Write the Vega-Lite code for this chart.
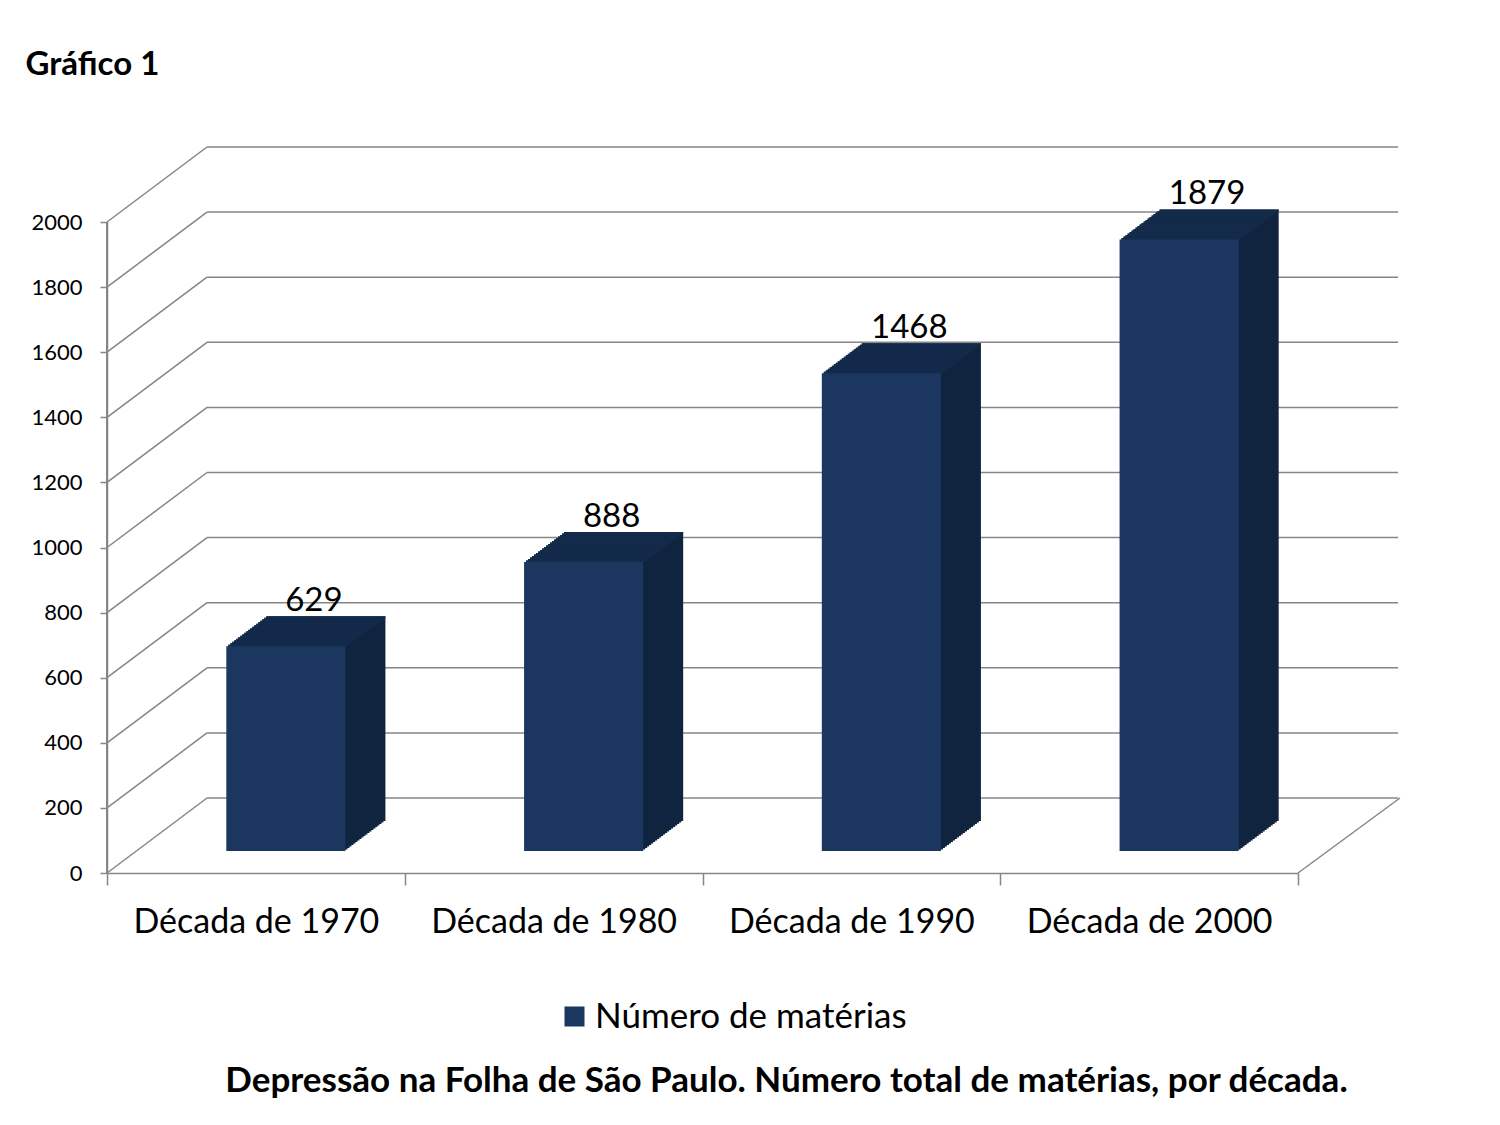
{
  "$schema": "https://vega.github.io/schema/vega-lite/v6.json",
  "autosize": "none",
  "width": 1191,
  "height": 651,
  "padding": {"left": 107, "top": 222, "right": 202, "bottom": 252},
  "background": "white",
  "datasets": {
    "materias": [
      {"decada": "Década de 1970", "materias": 629},
      {"decada": "Década de 1980", "materias": 888},
      {"decada": "Década de 1990", "materias": 1468},
      {"decada": "Década de 2000", "materias": 1879}
    ],
    "grade": [
      {"v": 0}, {"v": 200}, {"v": 400}, {"v": 600}, {"v": 800}, {"v": 1000},
      {"v": 1200}, {"v": 1400}, {"v": 1600}, {"v": 1800}, {"v": 2000}
    ]
  },
  "layer": [
    {
      "data": {"name": "grade"},
      "mark": {"type": "rule", "color": "#868686", "strokeWidth": 1.5, "xOffset": 100, "x2Offset": 100, "yOffset": -75, "y2Offset": -75},
      "encoding": {
        "x": {"value": 0},
        "x2": {"value": "width"},
        "y": {
          "field": "v",
          "type": "quantitative",
          "scale": {"domain": [0, 2000], "nice": false},
          "title": "Gráfico 1",
          "axis": {
            "values": [0, 200, 400, 600, 800, 1000, 1200, 1400, 1600, 1800, 2000],
            "format": "d",
            "domain": true,
            "ticks": true,
            "grid": false
          }
        }
      }
    },
    {
      "data": {"name": "grade"},
      "mark": {"type": "rule", "color": "#868686", "strokeWidth": 1.5, "x2Offset": 100, "y2Offset": -75},
      "encoding": {
        "x": {"value": 0},
        "x2": {"value": 0},
        "y": {"field": "v", "type": "quantitative"},
        "y2": {"field": "v"}
      }
    },
    {
      "data": {"name": "grade"},
      "transform": [{"filter": "datum.v == 0"}],
      "mark": {"type": "rule", "color": "#868686", "strokeWidth": 2},
      "encoding": {
        "x": {"value": 0},
        "y": {"field": "v", "type": "quantitative"},
        "y2": {"datum": 2000}
      }
    },
    {
      "data": {"name": "grade"},
      "transform": [{"filter": "datum.v == 0"}],
      "mark": {"type": "rule", "color": "#868686", "strokeWidth": 1.5, "x2Offset": 102, "y2Offset": -75},
      "encoding": {
        "x": {"value": "width"},
        "x2": {"value": "width"},
        "y": {"field": "v", "type": "quantitative"},
        "y2": {"field": "v"}
      }
    },
    {
      "data": {"name": "materias"},
      "layer": [
        {"mark": {"type": "bar", "width": {"band": 0.4}, "color": "#10243f", "xOffset": 32, "x2Offset": 32, "yOffset": -23.5, "y2Offset": -23.5}},
        {"mark": {"type": "bar", "width": {"band": 0.4}, "color": "#10243f", "xOffset": 34, "x2Offset": 34, "yOffset": -25, "y2Offset": -25}},
        {"mark": {"type": "bar", "width": {"band": 0.4}, "color": "#10243f", "xOffset": 36, "x2Offset": 36, "yOffset": -26.5, "y2Offset": -26.5}},
        {"mark": {"type": "bar", "width": {"band": 0.4}, "color": "#10243f", "xOffset": 38, "x2Offset": 38, "yOffset": -28, "y2Offset": -28}},
        {"mark": {"type": "bar", "width": {"band": 0.4}, "color": "#10243f", "xOffset": 40, "x2Offset": 40, "yOffset": -29.5, "y2Offset": -29.5}},
        {"mark": {"type": "bar", "width": {"band": 0.4}, "color": "#10243f", "xOffset": 42, "x2Offset": 42, "yOffset": -31, "y2Offset": -31}},
        {"mark": {"type": "bar", "width": {"band": 0.4}, "color": "#10243f", "xOffset": 44, "x2Offset": 44, "yOffset": -32.5, "y2Offset": -32.5}},
        {"mark": {"type": "bar", "width": {"band": 0.4}, "color": "#10243f", "xOffset": 46, "x2Offset": 46, "yOffset": -34, "y2Offset": -34}},
        {"mark": {"type": "bar", "width": {"band": 0.4}, "color": "#10243f", "xOffset": 48, "x2Offset": 48, "yOffset": -35.5, "y2Offset": -35.5}},
        {"mark": {"type": "bar", "width": {"band": 0.4}, "color": "#10243f", "xOffset": 50, "x2Offset": 50, "yOffset": -37, "y2Offset": -37}},
        {"mark": {"type": "bar", "width": {"band": 0.4}, "color": "#10243f", "xOffset": 52, "x2Offset": 52, "yOffset": -38.5, "y2Offset": -38.5}},
        {"mark": {"type": "bar", "width": {"band": 0.4}, "color": "#10243f", "xOffset": 54, "x2Offset": 54, "yOffset": -40, "y2Offset": -40}},
        {"mark": {"type": "bar", "width": {"band": 0.4}, "color": "#10243f", "xOffset": 56, "x2Offset": 56, "yOffset": -41.5, "y2Offset": -41.5}},
        {"mark": {"type": "bar", "width": {"band": 0.4}, "color": "#10243f", "xOffset": 58, "x2Offset": 58, "yOffset": -43, "y2Offset": -43}},
        {"mark": {"type": "bar", "width": {"band": 0.4}, "color": "#10243f", "xOffset": 60, "x2Offset": 60, "yOffset": -44.5, "y2Offset": -44.5}},
        {"mark": {"type": "bar", "width": {"band": 0.4}, "color": "#10243f", "xOffset": 62, "x2Offset": 62, "yOffset": -46, "y2Offset": -46}},
        {"mark": {"type": "bar", "width": {"band": 0.4}, "color": "#10243f", "xOffset": 64, "x2Offset": 64, "yOffset": -47.5, "y2Offset": -47.5}},
        {"mark": {"type": "bar", "width": {"band": 0.4}, "color": "#10243f", "xOffset": 66, "x2Offset": 66, "yOffset": -49, "y2Offset": -49}},
        {"mark": {"type": "bar", "width": {"band": 0.4}, "color": "#10243f", "xOffset": 68, "x2Offset": 68, "yOffset": -50.5, "y2Offset": -50.5}},
        {"mark": {"type": "bar", "width": {"band": 0.4}, "color": "#10243f", "xOffset": 70, "x2Offset": 70, "yOffset": -52, "y2Offset": -52}}
      ],
      "encoding": {
        "x": {
          "field": "decada",
          "type": "nominal",
          "scale": {"paddingInner": 0, "paddingOuter": 0},
          "title": "Depressão na Folha de São Paulo. Número total de matérias, por década.",
          "axis": {"tickBand": "extent", "labelAngle": 0, "labelLimit": 500, "domain": true, "ticks": true, "grid": false}
        },
        "y": {"field": "materias", "type": "quantitative"}
      }
    },
    {
      "data": {"name": "materias"},
      "layer": [
        {"mark": {"type": "bar", "width": {"band": 0.4}, "color": "#132a4b", "xOffset": 32, "x2Offset": 32, "yOffset": -23.5, "y2Offset": -21.5}},
        {"mark": {"type": "bar", "width": {"band": 0.4}, "color": "#132a4b", "xOffset": 34, "x2Offset": 34, "yOffset": -25, "y2Offset": -23}},
        {"mark": {"type": "bar", "width": {"band": 0.4}, "color": "#132a4b", "xOffset": 36, "x2Offset": 36, "yOffset": -26.5, "y2Offset": -24.5}},
        {"mark": {"type": "bar", "width": {"band": 0.4}, "color": "#132a4b", "xOffset": 38, "x2Offset": 38, "yOffset": -28, "y2Offset": -26}},
        {"mark": {"type": "bar", "width": {"band": 0.4}, "color": "#132a4b", "xOffset": 40, "x2Offset": 40, "yOffset": -29.5, "y2Offset": -27.5}},
        {"mark": {"type": "bar", "width": {"band": 0.4}, "color": "#132a4b", "xOffset": 42, "x2Offset": 42, "yOffset": -31, "y2Offset": -29}},
        {"mark": {"type": "bar", "width": {"band": 0.4}, "color": "#132a4b", "xOffset": 44, "x2Offset": 44, "yOffset": -32.5, "y2Offset": -30.5}},
        {"mark": {"type": "bar", "width": {"band": 0.4}, "color": "#132a4b", "xOffset": 46, "x2Offset": 46, "yOffset": -34, "y2Offset": -32}},
        {"mark": {"type": "bar", "width": {"band": 0.4}, "color": "#132a4b", "xOffset": 48, "x2Offset": 48, "yOffset": -35.5, "y2Offset": -33.5}},
        {"mark": {"type": "bar", "width": {"band": 0.4}, "color": "#132a4b", "xOffset": 50, "x2Offset": 50, "yOffset": -37, "y2Offset": -35}},
        {"mark": {"type": "bar", "width": {"band": 0.4}, "color": "#132a4b", "xOffset": 52, "x2Offset": 52, "yOffset": -38.5, "y2Offset": -36.5}},
        {"mark": {"type": "bar", "width": {"band": 0.4}, "color": "#132a4b", "xOffset": 54, "x2Offset": 54, "yOffset": -40, "y2Offset": -38}},
        {"mark": {"type": "bar", "width": {"band": 0.4}, "color": "#132a4b", "xOffset": 56, "x2Offset": 56, "yOffset": -41.5, "y2Offset": -39.5}},
        {"mark": {"type": "bar", "width": {"band": 0.4}, "color": "#132a4b", "xOffset": 58, "x2Offset": 58, "yOffset": -43, "y2Offset": -41}},
        {"mark": {"type": "bar", "width": {"band": 0.4}, "color": "#132a4b", "xOffset": 60, "x2Offset": 60, "yOffset": -44.5, "y2Offset": -42.5}},
        {"mark": {"type": "bar", "width": {"band": 0.4}, "color": "#132a4b", "xOffset": 62, "x2Offset": 62, "yOffset": -46, "y2Offset": -44}},
        {"mark": {"type": "bar", "width": {"band": 0.4}, "color": "#132a4b", "xOffset": 64, "x2Offset": 64, "yOffset": -47.5, "y2Offset": -45.5}},
        {"mark": {"type": "bar", "width": {"band": 0.4}, "color": "#132a4b", "xOffset": 66, "x2Offset": 66, "yOffset": -49, "y2Offset": -47}},
        {"mark": {"type": "bar", "width": {"band": 0.4}, "color": "#132a4b", "xOffset": 68, "x2Offset": 68, "yOffset": -50.5, "y2Offset": -48.5}},
        {"mark": {"type": "bar", "width": {"band": 0.4}, "color": "#132a4b", "xOffset": 70, "x2Offset": 70, "yOffset": -52, "y2Offset": -50}}
      ],
      "encoding": {
        "x": {"field": "decada", "type": "nominal"},
        "y": {"field": "materias", "type": "quantitative"},
        "y2": {"field": "materias"}
      }
    },
    {
      "data": {"name": "materias"},
      "mark": {"type": "bar", "width": {"band": 0.4}, "xOffset": 30, "x2Offset": 30, "yOffset": -22, "y2Offset": -22},
      "encoding": {
        "x": {"field": "decada", "type": "nominal"},
        "y": {"field": "materias", "type": "quantitative"},
        "color": {
          "datum": "Número de matérias",
          "scale": {"range": ["#1b375f"]},
          "legend": {"title": null}
        }
      }
    },
    {
      "data": {"name": "materias"},
      "mark": {"type": "text", "font": "Lato", "fontSize": 33, "color": "#000000", "baseline": "alphabetic", "xOffset": 58, "yOffset": -57},
      "encoding": {
        "x": {"field": "decada", "type": "nominal"},
        "y": {"field": "materias", "type": "quantitative"},
        "text": {"field": "materias", "type": "quantitative", "format": "d"}
      }
    }
  ],
  "config": {
    "view": {"stroke": null},
    "font": "Lato",
    "axis": {
      "grid": false,
      "domainColor": "#868686",
      "domainWidth": 1.5,
      "tickColor": "#868686",
      "tickWidth": 1.5,
      "labelFont": "Lato",
      "labelColor": "#000000",
      "titleFont": "Lato",
      "titleColor": "#000000"
    },
    "axisY": {
      "tickSize": 7,
      "labelPadding": 18,
      "labelFontSize": 22,
      "titleAngle": 0,
      "titleX": -82,
      "titleY": -148,
      "titleAlign": "left",
      "titleBaseline": "alphabetic",
      "titleFontSize": 33,
      "titleFontWeight": "bold"
    },
    "axisX": {
      "tickSize": 12,
      "labelPadding": 20,
      "labelFontSize": 34,
      "titleX": 679,
      "titleY": 218,
      "titleAlign": "center",
      "titleBaseline": "alphabetic",
      "titleFontSize": 35,
      "titleFontWeight": "bold"
    },
    "legend": {
      "orient": "none",
      "legendX": 450,
      "legendY": 777,
      "padding": 0,
      "symbolType": "square",
      "symbolSize": 400,
      "symbolStrokeWidth": 0,
      "labelFont": "Lato",
      "labelFontSize": 35,
      "labelColor": "#000000",
      "labelOffset": 3,
      "labelLimit": 600
    }
  }
}
